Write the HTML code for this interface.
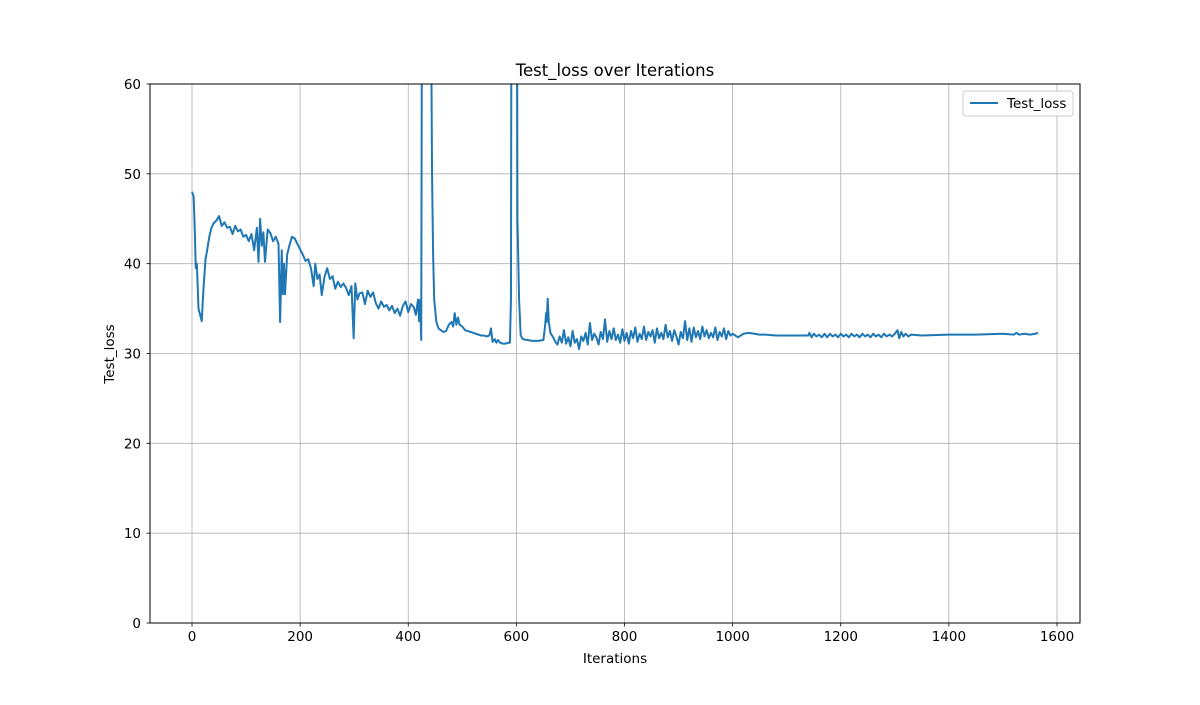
<!DOCTYPE html>
<html><head><meta charset="utf-8"><style>
body{margin:0;background:#fff}
svg text{font-family:"DejaVu Sans","Liberation Sans",sans-serif;fill:#000}
</style></head><body>
<svg id="chart" width="1200" height="700" xmlns="http://www.w3.org/2000/svg">
<defs><clipPath id="plotclip"><rect x="150" y="84" width="930" height="539"/></clipPath></defs>
<rect width="1200" height="700" fill="#fff"/>
<g id="grid"></g>
<g id="series" clip-path="url(#plotclip)"></g>
<rect x="150" y="84" width="930" height="539" fill="none" stroke="#000" stroke-width="1"/>
<g id="ticks"></g>
<text x="615" y="76" font-size="16.5" text-anchor="middle">Test_loss over Iterations</text>
<text x="615" y="663" font-size="13.5" text-anchor="middle">Iterations</text>
<text x="114" y="354" font-size="13.5" text-anchor="middle" transform="rotate(-90 114 354)">Test_loss</text>
<g>
<rect x="963" y="91" width="110" height="25" rx="3" fill="#fff" fill-opacity="0.8" stroke="#ccc"/>
<line x1="970" y1="103" x2="998" y2="103" stroke="#1f77b4" stroke-width="2"/>
<text x="1007" y="108" font-size="13.5">Test_loss</text>
</g>
</svg>
<script>
const xTicks=[0,200,400,600,800,1000,1200,1400,1600];
const yTicks=[0,10,20,30,40,50,60];
const earlyPoints=[[0,48],[3,47.5],[5,44],[7,39.5],[9,40],[12,35],[15,34.3],[18,33.6],[21,37],[25,40.5],[28,41.5],[32,43],[36,44],[40,44.5],[45,44.8],[50,45.3],[55,44.2],[60,44.6],[65,44],[70,44.1],[75,43.3],[80,44.2],[85,43.6],[90,43.8],[95,43],[100,43.2],[105,42.5],[110,43.3],[115,41.5],[120,44],[123,40.2],[126,45],[129,42],[132,43.5],[135,40.2],[140,43.8],[145,43.4],[150,42.5],[155,43],[160,42.2],[163,33.5],[166,41.5],[168,36.6],[170,40],[172,36.6],[176,41],[180,42],[185,43],[190,42.8],[195,42.2],[200,41.6],[205,41],[210,40.3],[215,40.5],[220,39.5],[225,37.5],[228,40],[232,38.3],[236,38.8],[240,36.5],[245,38.5],[250,39.5],[255,38.3],[260,38.6],[265,37.2],[270,38],[275,37.4],[280,37.8],[285,37.3],[290,36.5],[295,37.5],[299,31.7],[302,37.8],[306,36],[310,36.7],[315,36.8],[320,35.5],[325,37],[330,36.3],[335,36.8],[340,35.6],[345,35],[350,35.8],[355,35.2],[360,35.4],[365,34.8],[370,35.3],[375,34.5],[380,35],[385,34.2],[390,35.3],[395,35.8],[400,34.6],[405,35.5],[410,35.2],[414,34.3],[418,36],[420,33.6],[422,36],[424,31.5]];
const spikePoints=[[427,120],[440,120],[443,60],[444,50],[446,41],[448,36],[452,33.5],[456,32.8],[460,32.6],[465,32.4],[470,32.5],[475,33.2],[480,33.5],[483,33],[486,34.5],[489,33.2],[492,34],[495,33.2],[500,33],[505,32.6],[510,32.5],[515,32.4],[520,32.3],[525,32.2],[530,32.1],[535,32],[540,32],[545,31.9],[550,32],[553,32.8],[556,31.3],[560,31.6],[563,31.2],[566,31.5],[570,31.2],[575,31.1],[580,31.1],[585,31.2],[588,31.2],[590,36],[592,120],[600,120],[602,45],[603,42],[605,36],[608,32],[612,31.6],[620,31.5],[630,31.4],[640,31.4],[650,31.5],[653,33],[655,34.5],[656,33.5],[658,36.1],[660,33.5],[663,32.3],[668,31.8]];
const noisyPoints=[[672,31.3],[676,31],[680,31.9],[684,31.2],[688,32.6],[692,31.1],[696,31.8],[700,30.8],[704,32.5],[708,31.2],[712,31.6],[716,30.5],[720,31.9],[724,31.4],[728,32.3],[732,31],[736,33.4],[740,31.5],[744,32.2],[748,31.8],[752,31],[756,32.4],[760,31.6],[764,33.8],[768,31.3],[772,32.5],[776,31.6],[780,32.8],[784,31.5],[788,32.1],[792,31.2],[796,32.7],[800,31.4],[804,32.3],[808,31.1],[812,32.5],[816,31.7],[820,32.9],[824,31.3],[828,32.2],[832,31.6],[836,33],[840,31.5],[844,32.4],[848,31.9],[852,32.6],[856,31.2],[860,32.8],[864,31.7],[868,32.3],[872,31.6],[876,33.2],[880,31.8],[884,32.5],[888,31.4],[892,32.6],[896,31.9],[900,31],[904,32.4],[908,31.7],[912,33.6],[916,31.5],[920,32.8],[924,31.3],[928,32.9],[932,31.8],[936,32.5],[940,31.6],[944,33],[948,31.9],[952,32.6],[956,31.7],[960,32.3],[964,31.8],[968,32.9],[972,31.5],[976,32.4],[980,31.9],[984,32.8],[988,31.6],[992,32.5],[996,32]];
const latePoints=[[1000,32.2],[1010,31.8],[1020,32.2],[1030,32.3],[1040,32.2],[1050,32.1],[1060,32.1],[1080,32],[1100,32],[1140,32],[1142,32.3],[1146,31.8],[1150,32.2],[1155,31.9],[1160,32.1],[1165,31.8],[1170,32.2],[1175,31.8],[1180,32.2],[1185,31.9],[1190,32.1],[1195,31.8],[1200,32.2],[1205,31.9],[1210,32.1],[1215,31.8],[1220,32.2],[1225,31.9],[1230,32.1],[1235,31.8],[1240,32.2],[1245,31.9],[1250,32.1],[1255,31.8],[1260,32.2],[1265,31.9],[1270,32.1],[1275,31.8],[1280,32.2],[1285,31.9],[1290,32.1],[1295,31.9],[1300,32.2],[1305,32.6],[1308,31.7],[1312,32.4],[1316,31.9],[1320,32.2],[1325,31.9],[1330,32.1],[1350,32],[1400,32.1],[1450,32.1],[1500,32.2],[1520,32.1],[1525,32.3],[1530,32.1],[1540,32.2],[1550,32.1],[1560,32.2],[1565,32.3]];
const xScale=v=>192+v*(1057-192)/1600;
const yScale=v=>623-v*(623-84)/60;
const ns="http://www.w3.org/2000/svg";
const grid=document.getElementById('grid'),ticks=document.getElementById('ticks'),series=document.getElementById('series');
function mk(tag,attrs,parent){const e=document.createElementNS(ns,tag);for(const k in attrs)e.setAttribute(k,attrs[k]);parent.appendChild(e);return e;}
xTicks.forEach(t=>{const x=xScale(t);
 const g=mk('line',{x1:x,x2:x,y1:84,y2:623,stroke:'#b0b0b0','stroke-width':0.8},grid);
 
 
 mk('line',{x1:x,x2:x,y1:623,y2:626.5,stroke:'#000','stroke-width':0.8},ticks);
 const tx=mk('text',{x:x,y:641,'font-size':13.5,'text-anchor':'middle'},ticks);tx.textContent=t;
 
 
});
yTicks.forEach(t=>{const y=yScale(t);
 const g=mk('line',{x1:150,x2:1080,y1:y,y2:y,stroke:'#b0b0b0','stroke-width':0.8},grid);
 
 
 mk('line',{x1:146.5,x2:150,y1:y,y2:y,stroke:'#000','stroke-width':0.8},ticks);
 const tx=mk('text',{x:141,y:y+5,'font-size':13.5,'text-anchor':'end'},ticks);tx.textContent=t;
 
 
});
const all=earlyPoints.concat(spikePoints,noisyPoints,latePoints);
const d=all.map((p,i)=>(i?'L':'M')+xScale(p[0]).toFixed(2)+','+yScale(p[1]).toFixed(2)).join(' ');
const p=mk('path',{d:d,fill:'none',stroke:'#1f77b4','stroke-width':2,'stroke-linejoin':'round'},series);


</script>
</body></html>
